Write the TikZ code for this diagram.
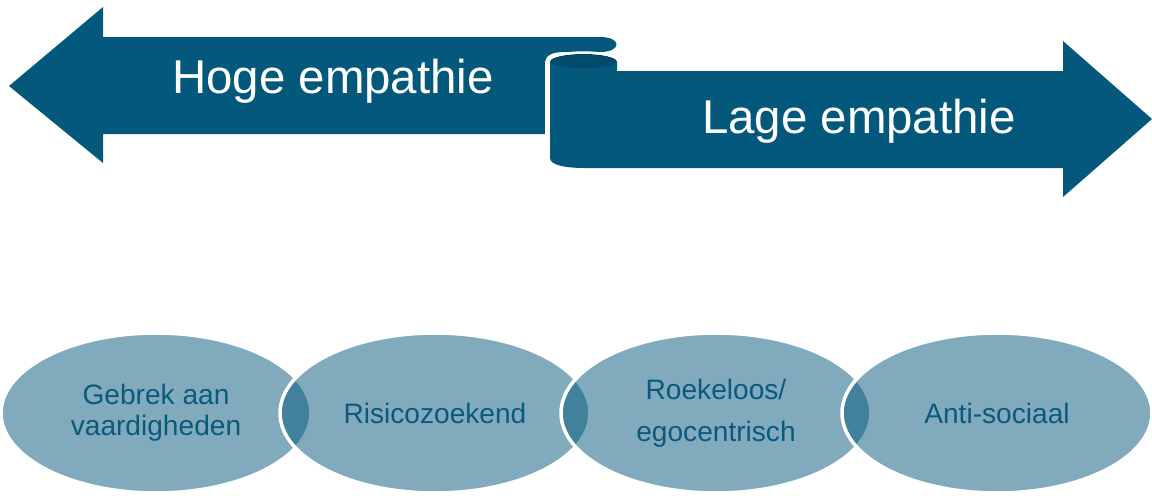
\documentclass[tikz,border=0pt]{standalone}
\usepackage{fontspec}
\setmainfont{Liberation Sans}
\usetikzlibrary{shapes.geometric}

\definecolor{arrowblue}{HTML}{03587C}
\definecolor{rolldark}{HTML}{014A6A}
\definecolor{labelblue}{HTML}{0A5A7E}

\tikzset{
    band/.style={fill=arrowblue},
    bandtext/.style={text=white, anchor=base, inner sep=0pt,
        font=\fontsize{27}{32}\selectfont},
    blob/.style={ellipse, minimum width=6.2cm, minimum height=3.2cm,
        inner sep=0pt, fill=arrowblue, fill opacity=0.5, text opacity=1,
        draw=white, line width=2pt, text=labelblue, align=center,
        font=\fontsize{16}{17.6}\selectfont},
}

\begin{document}
\begin{tikzpicture}[x=0.02cm, y=-0.02cm]
            \useasboundingbox (0,0) rectangle (1152,495);
            % left band, pointing left
            \fill[band] (9,86) -- (103,7) -- (103,37) -- (600,37)
                .. controls (622,37) and (622,52) .. (600,52) -- (565,52)
                .. controls (550,52) and (545,56) .. (545,64)
                -- (545,134) -- (103,134) -- (103,163) -- cycle;
            % right band, pointing right
            \fill[band] (550,61) -- (550,158)
                .. controls (550,165) and (565,168) .. (585,168)
                -- (1063,168) -- (1063,197) -- (1152,119) -- (1063,41)
                -- (1063,71) -- (617,71) -- (617,61) -- cycle;
            % the roll in between
            \fill[rolldark] (583.5,61) ellipse [x radius=0.67cm, y radius=0.14cm];
            \draw[white, line width=2.8pt] (547.5,134) -- (547.5,62);
            \draw[white, line width=1.4pt] (549,61)
                arc[start angle=180, end angle=0, x radius=0.69cm, y radius=0.17cm];
            \node[bandtext] (hoge) at (333,93) {Hoge empathie};
            \node[bandtext] (lage) at (859,133) {Lage empathie};
            \foreach[count=\i] \cx/\txt in {156/{Gebrek aan\\vaardigheden},
                435/{Risicozoekend}, 716/{Roekeloos/\\[6pt]egocentrisch},
                997/{Anti-sociaal}} {
                \node[blob] (e-\i) at (\cx,413) {\txt};
            }
        \end{tikzpicture}
\end{document}
